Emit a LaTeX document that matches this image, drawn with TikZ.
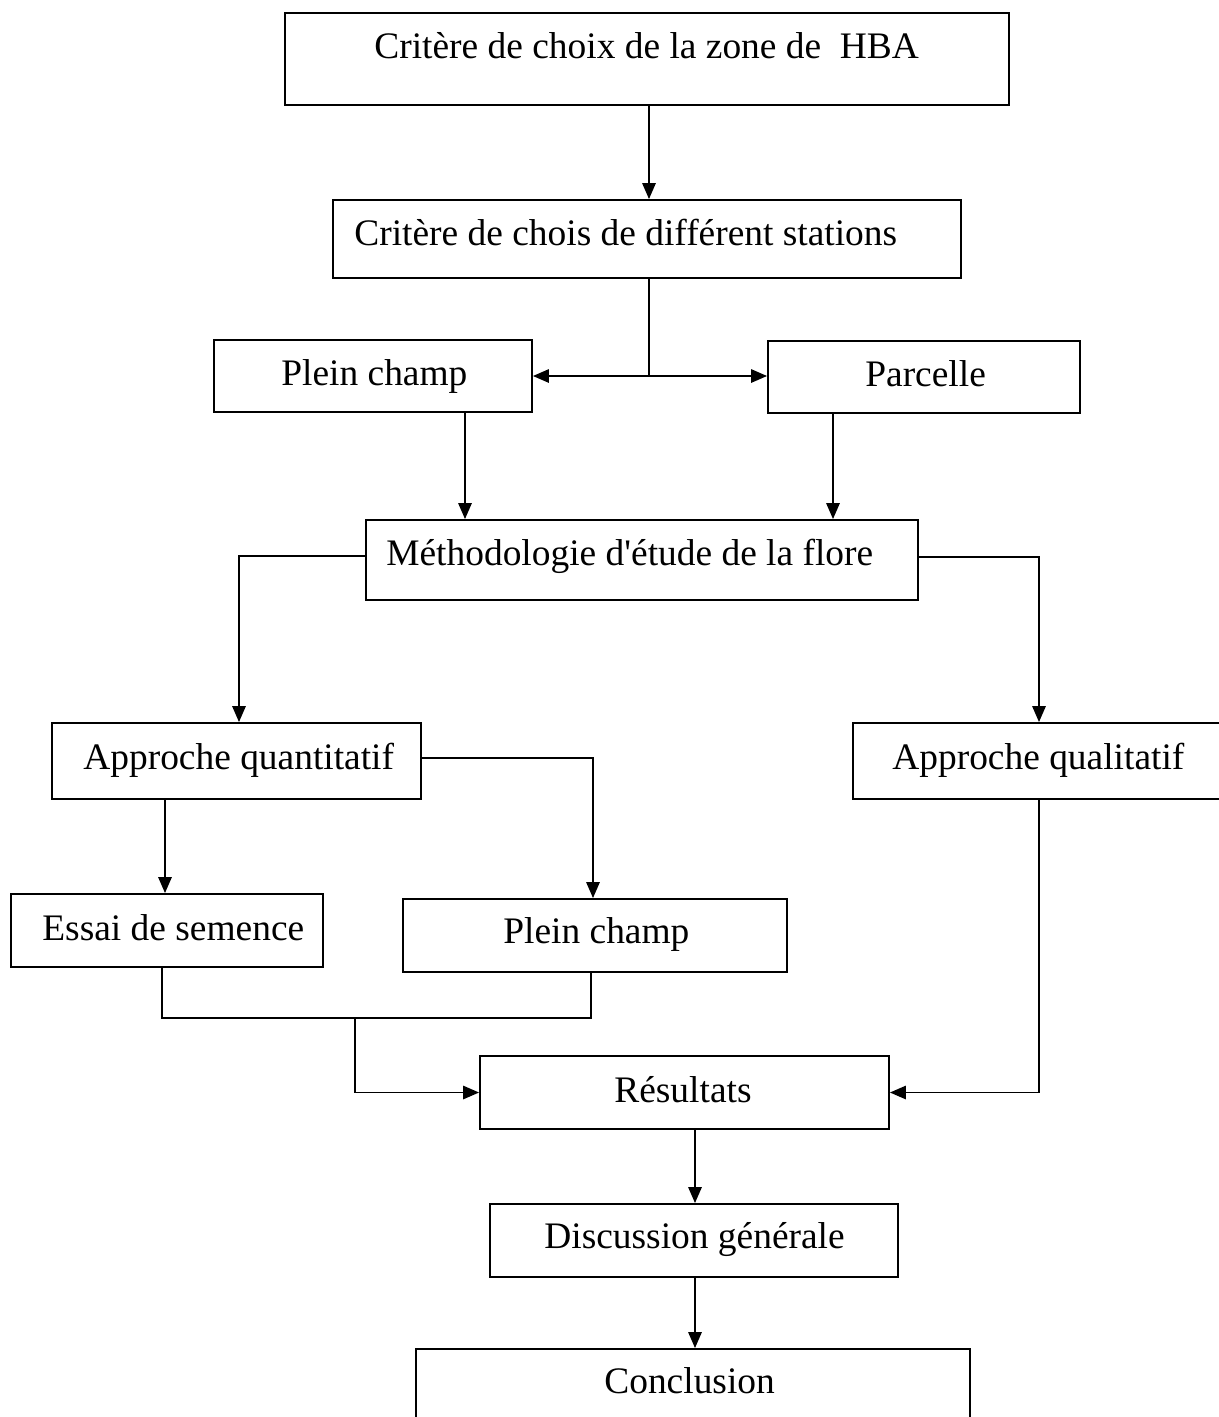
\documentclass[tikz,border=0pt]{standalone}
\usepackage{fontspec}
\setmainfont{Liberation Serif}
\usetikzlibrary{arrows.meta,fit,calc}
\begin{document}
\begin{tikzpicture}[x=0.02cm,y=-0.02cm,
  box/.style={draw=black,line width=1.1pt,inner sep=0pt,rectangle},
  txt/.style={inner sep=0pt,anchor=base west,font=\fontsize{21.3pt}{25pt}\selectfont},
  conn/.style={draw=black,line width=0.85pt},
  arr/.style={conn,-{Triangle[length=0.32cm,width=0.27cm]}}]
\useasboundingbox (0,0) rectangle (1219,1417);
\fill[white] (0,0) rectangle (1219,1417);
% boxes
\node[box,fit={(285,13) (1009,105)}] (b1) {};
\node[box,fit={(333,200) (961,278)}] (b2) {};
\node[box,fit={(214,340) (532,412)}] (pc1) {};
\node[box,fit={(768,341) (1080,413)}] (par) {};
\node[box,fit={(366,520) (918,600)}] (meth) {};
\node[box,fit={(52,723) (421,799)}] (quant) {};
\node[box,fit={(853,723) (1230,799)}] (qual) {};
\node[box,fit={(11,894) (323,967)}] (essai) {};
\node[box,fit={(403,899) (787,972)}] (pc2) {};
\node[box,fit={(480,1056) (889,1129)}] (res) {};
\node[box,fit={(490,1204) (898,1277)}] (disc) {};
\node[box,fit={(416,1349) (970,1450)}] (concl) {};
% texts
\node[txt] (t1) at (374,58) {Critère de choix de la zone de~~HBA};
\node[txt] (t2) at (354,245) {Critère de chois de différent stations};
\node[txt] (t3) at (281,385) {Plein champ};
\node[txt] (t4) at (865,386) {Parcelle};
\node[txt] (t5) at (386,565) {Méthodologie d\textquotesingle étude de la flore};
\node[txt] (t6) at (83,769) {Approche quantitatif};
\node[txt] (t7) at (892,769) {Approche qualitatif};
\node[txt] (t8) at (42,940) {Essai de semence};
\node[txt] (t9) at (503,943) {Plein champ};
\node[txt] (t10) at (614,1102) {Résultats};
\node[txt] (t11) at (544,1248) {Discussion générale};
\node[txt] (t12) at (604,1393) {Conclusion};
% helper coordinates
\coordinate (j1) at (649,376);
\coordinate (c465) at (465,0);
\coordinate (c833) at (833,0);
\coordinate (y556) at (0,556);
\coordinate (y557) at (0,557);
\coordinate (c239) at (239,0);
\coordinate (c1039) at (1039,0);
\coordinate (y758) at (0,758);
\coordinate (c593) at (593,0);
\coordinate (c165) at (165,0);
\coordinate (c162) at (162,0);
\coordinate (c591) at (591,0);
\coordinate (m1) at (355,1018);
\coordinate (c695) at (695,0);
% connectors
\draw[arr] (b1.south -| j1) -- (b2.north -| j1);
\draw[conn] (b2.south -| j1) -- (j1);
\draw[arr] (j1) -- (pc1.east |- j1);
\draw[arr] (j1) -- (par.west |- j1);
\draw[arr] (pc1.south -| c465) -- (meth.north -| c465);
\draw[arr] (par.south -| c833) -- (meth.north -| c833);
\draw[arr] (meth.west |- y556) -| (quant.north -| c239);
\draw[arr] (meth.east |- y557) -| (qual.north -| c1039);
\draw[arr] (quant.east |- y758) -| (pc2.north -| c593);
\draw[arr] (quant.south -| c165) -- (essai.north -| c165);
\draw[conn] (essai.south -| c162) |- (m1) -- (m1 -| c591) -- (pc2.south -| c591);
\draw[arr] (m1) |- (res.west);
\draw[arr] (qual.south -| c1039) |- (res.east);
\draw[arr] (res.south -| c695) -- (disc.north -| c695);
\draw[arr] (disc.south -| c695) -- (concl.north -| c695);
\end{tikzpicture}
\end{document}
